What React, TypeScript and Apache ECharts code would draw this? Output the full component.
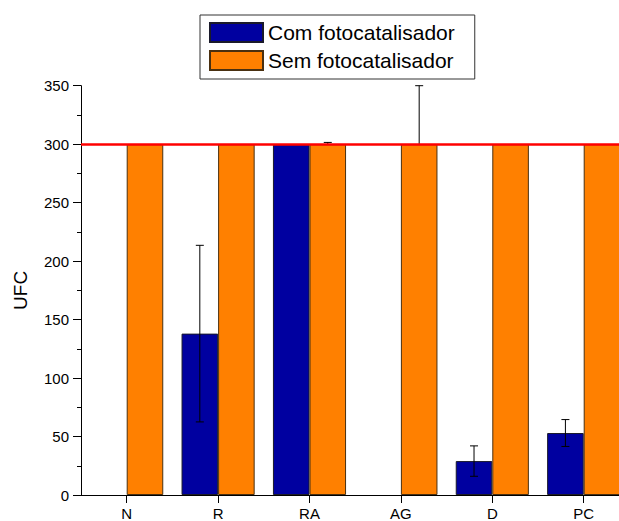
import React, { useEffect, useRef } from "react";
import * as echarts from "echarts";

const categories = ["N", "R", "RA", "AG", "D", "PC"];
const comValues = [0, 138, 300, 0, 29, 53];
const semValues = [300, 300, 300, 300, 300, 300];
const comErrors = [0, 75.5, 0, 0, 13, 11.5];
const semErrors = [0, 0, 1.5, 50, 0, 0];
const yTicks = { min: 0, max: 350, interval: 50 };
const referenceLine = 300;
const seriesNames = ["Com fotocatalisador", "Sem fotocatalisador"];

const FONT = "'Liberation Sans', Arial, sans-serif";

function errorData(values: number[], errs: number[]) {
  return values
    .map((v, i) => [i, v, errs[i]])
    .filter((d) => d[2] > 0);
}

function barData(values: number[]) {
  return values.map((v) =>
    v === 0 ? { value: v, itemStyle: { borderWidth: 0, opacity: 0 } } : v
  );
}

function makeErrorRender(side: number) {
  return (params: any, api: any) => {
    const idx = api.value(0);
    const v = api.value(1);
    const e = api.value(2);
    const band = api.size([1, 0])[0];
    const off = side * band * 0.2;
    const top = api.coord([idx, v + e]);
    const bot = api.coord([idx, v - e]);
    const x = top[0] + off;
    const cap = 4;
    const style = { stroke: "#000", lineWidth: 1 };
    return {
      type: "group",
      children: [
        { type: "line", shape: { x1: x, y1: top[1], x2: x, y2: bot[1] }, style },
        { type: "line", shape: { x1: x - cap, y1: top[1], x2: x + cap, y2: top[1] }, style },
        { type: "line", shape: { x1: x - cap, y1: bot[1], x2: x + cap, y2: bot[1] }, style },
      ],
    };
  };
}

export default function App() {
  const ref = useRef<HTMLDivElement>(null);
  useEffect(() => {
    if (!ref.current) return;
    const chart = echarts.init(ref.current, undefined, { renderer: "svg" });
    chart.setOption({
      animation: false,
      backgroundColor: "#fff",
      textStyle: { fontFamily: FONT, color: "#000" },
      legend: {
        data: seriesNames,
        orient: "vertical",
        left: 200,
        top: 15,
        padding: [7, 20, 8, 9],
        itemWidth: 53,
        itemHeight: 19,
        itemGap: 7,
        icon: "rect",
        borderColor: "#333",
        borderWidth: 1,
        textStyle: { fontSize: 21, fontFamily: FONT, color: "#000" },
      },
      grid: {
        left: 81,
        top: 85.7,
        height: 409.3,
        width: 548.4,
        containLabel: false,
        outerBoundsMode: "none",
      },
      xAxis: {
        type: "category",
        data: categories,
        axisLine: { show: true, lineStyle: { color: "#000", width: 1 } },
        axisTick: { show: true, alignWithLabel: true, length: 8, lineStyle: { color: "#000" } },
        axisLabel: { fontSize: 15, lineHeight: 14, color: "#000", margin: 11, fontFamily: FONT },
        splitLine: { show: false },
      },
      yAxis: {
        type: "value",
        min: yTicks.min,
        max: yTicks.max,
        interval: yTicks.interval,
        name: "UFC",
        nameLocation: "middle",
        nameGap: 51,
        nameTextStyle: { fontSize: 19, color: "#000", fontFamily: FONT },
        axisLine: { show: true, lineStyle: { color: "#000", width: 1 } },
        axisTick: { show: true, inside: false, length: 8, lineStyle: { color: "#000" } },
        minorTick: { show: true, splitNumber: 2, length: 4, lineStyle: { color: "#000" } },
        axisLabel: { fontSize: 15, color: "#000", margin: 12, fontFamily: FONT },
        splitLine: { show: false },
      },
      series: [
        {
          name: seriesNames[0],
          type: "bar",
          data: barData(comValues),
          barWidth: "40%",
          barGap: "0%",
          z: 2,
          itemStyle: { color: "#0000A0", borderColor: "#1a1a2a", borderWidth: 1 },
        },
        {
          name: seriesNames[1],
          type: "bar",
          data: barData(semValues),
          barWidth: "40%",
          barGap: "0%",
          z: 2,
          itemStyle: { color: "#FF8000", borderColor: "#4a3010", borderWidth: 1 },
          markLine: {
            silent: true,
            symbol: ["none", "none"],
            label: { show: false },
            lineStyle: { color: "#FF0000", width: 2.5, type: "solid" },
            data: [{ yAxis: referenceLine }],
            z: 5,
          },
        },
        {
          name: "errCom",
          type: "custom",
          renderItem: makeErrorRender(-1),
          data: errorData(comValues, comErrors),
          z: 3,
          encode: { x: 0, y: 1 },
        },
        {
          name: "errSem",
          type: "custom",
          renderItem: makeErrorRender(1),
          data: errorData(semValues, semErrors),
          z: 1,
          encode: { x: 0, y: 1 },
        },
      ],
    });
    return () => chart.dispose();
  }, []);
  return (
    <div
      ref={ref}
      style={{ position: "fixed", left: 0, top: 0, width: 619, height: 521, overflow: "hidden" }}
    />
  );
}
